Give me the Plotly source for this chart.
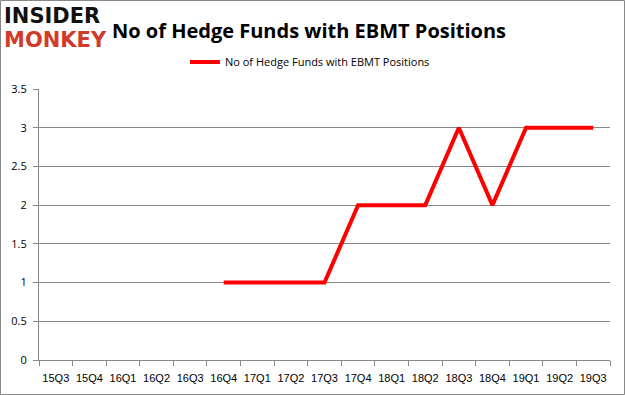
import plotly.graph_objects as go

quarters = ["15Q3", "15Q4", "16Q1", "16Q2", "16Q3", "16Q4", "17Q1", "17Q2", "17Q3",
            "17Q4", "18Q1", "18Q2", "18Q3", "18Q4", "19Q1", "19Q2", "19Q3"]
funds = [None, None, None, None, None, 1, 1, 1, 1, 2, 2, 2, 3, 2, 3, 3, 3]
series_name = "No of Hedge Funds with EBMT Positions"

W, H = 625, 395
L, R, T, B = 39, 15, 89, 35
pw, ph = W - L - R, H - T - B

fig = go.Figure()
fig.add_trace(go.Scatter(x=quarters, y=funds, mode="lines", name=series_name,
                         line=dict(color="#FF0000", width=4), connectgaps=False))

gray = "#888888"
fig.update_layout(
    width=W, height=H,
    margin=dict(l=L, r=R, t=T, b=B, autoexpand=False),
    paper_bgcolor="white", plot_bgcolor="white",
    font=dict(family="Open Sans, DejaVu Sans, sans-serif", size=11, color="#000000"),
    showlegend=True,
    legend=dict(orientation="h", x=(310 - L) / pw, xanchor="center", y=(360 - 62) / ph, yanchor="middle",
                font=dict(size=11, family="Open Sans, sans-serif"), bgcolor="rgba(0,0,0,0)"),
    xaxis=dict(type="category", showgrid=False, showline=True, linecolor=gray, linewidth=1,
               ticks="outside", ticklen=5, tickcolor=gray, tickson="boundaries",
               tickangle=0, tickfont=dict(size=11, family="Liberation Sans, Arial, sans-serif"),
               ticklabelstandoff=8, range=[-0.5, 16.5], automargin=False),
    yaxis=dict(range=[0, 3.5], dtick=0.5, showgrid=True, gridcolor=gray, gridwidth=1,
               showline=True, linecolor=gray, linewidth=1, ticks="outside", ticklen=5,
               tickcolor=gray, zeroline=False, tickfont=dict(size=11), tickformat="~g",
               ticklabelstandoff=4, automargin=False),
    annotations=[
        dict(text="<b>No of Hedge Funds with EBMT Positions</b>", xref="paper", yref="paper",
             x=(110 - L) / pw, y=(360 - 30) / ph, xanchor="left", yanchor="middle",
             showarrow=False, font=dict(size=20, family="Open Sans, sans-serif", color="#000000")),
        dict(text="<b>INSIDER</b>", xref="paper", yref="paper",
             x=(2 - L) / pw, y=(360 - 16) / ph, xanchor="left", yanchor="middle",
             showarrow=False, font=dict(size=21, family="DejaVu Sans, sans-serif", color="#111111")),
        dict(text="<b>MONKEY</b>", xref="paper", yref="paper",
             x=(2 - L) / pw, y=(360 - 40) / ph, xanchor="left", yanchor="middle",
             showarrow=False, font=dict(size=21, family="DejaVu Sans, sans-serif", color="#D23A2A")),
    ],
    shapes=[dict(type="rect", xref="paper", yref="paper",
                 x0=(0.5 - L) / pw, x1=(W - 0.5 - L) / pw,
                 y0=(360 - (H - 0.5)) / ph, y1=(360 - 0.5) / ph,
                 line=dict(color=gray, width=1), fillcolor="rgba(0,0,0,0)", layer="below")],
)

fig.write_html("out.html", config={"displayModeBar": False},
               post_script="document.body.style.margin='0';document.body.style.padding='0';document.body.style.overflow='hidden';")
